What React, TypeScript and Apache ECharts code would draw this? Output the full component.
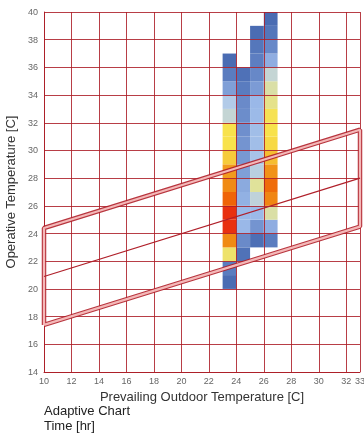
import React, { useEffect, useRef } from "react";
import * as echarts from "echarts";

// Heat-map columns (prevailing outdoor temperature bins, 1 °C wide)
const colX = [23, 24, 25, 26];
// lowest operative temperature bin of each column
const colStart = [20, 22, 23, 23];
// colour-scale values per 1 °C bin, from the lowest bin upwards
const col23 = [0, 1, 6.6, 9, 11, 11, 10, 9, 8.6, 7.5, 7, 7, 5, 4, 2.3, 1, 0];
const col24 = [0.4, 1.6, 3, 3, 2.8, 2.6, 2.3, 2.1, 2, 1.8, 1.7, 1.6, 1.0, 0.3];
const col25 = [0.2, 2, 3.1, 4.7, 6, 4.4, 3.6, 3.3, 3.3, 3.1, 3, 2.2, 1.5, 1.1, 0.7, 0];
const col26 = [1, 2.7, 5.8, 9.1, 9.8, 8.8, 7.8, 7.2, 7, 6.9, 6.2, 5.8, 5, 2.7, 1.5, 0.6, 0];
const columns = [col23, col24, col25, col26];

// Comfort zone (80 % acceptability) polygon and neutral line
const zoneX = [10, 33, 33, 10, 10];
const zoneY = [17.4, 24.5, 31.5, 24.4, 17.4];
const neutralX = [10, 33];
const neutralY = [20.9, 28.0];

const xTitle = "Prevailing Outdoor Temperature [C]";
const yTitle = "Operative Temperature [C]";
const footer1 = "Adaptive Chart";
const footer2 = "Time [hr]";

const scaleColors = [
  "#4a6cb3", "#5a7cbf", "#7494d0", "#9ab8e8", "#b2cbe8", "#c4d5d4",
  "#e0e29a", "#f8e24c", "#f4b42a", "#f08a14", "#ef6408", "#e83010",
];

const FONT = "Liberation Sans, Arial, sans-serif";
const GRID_RED = "rgba(172,28,38,0.85)";

export default function App() {
  const ref = useRef<HTMLDivElement>(null);
  useEffect(() => {
    if (!ref.current) return;
    const chart = echarts.init(ref.current, undefined, { renderer: "svg" });
    const cells: number[][] = [];
    columns.forEach((vals, ci) => {
      vals.forEach((v, i) => cells.push([colX[ci], colStart[ci] + i, v]));
    });
    chart.setOption({
      animation: false,
      textStyle: { fontFamily: FONT },
      grid: {
        left: 44,
        right: 4,
        top: 12,
        bottom: 63,
        containLabel: false,
        outerBoundsMode: "none",
      },
      visualMap: {
        show: false,
        type: "continuous",
        min: 0,
        max: 11,
        dimension: 2,
        seriesIndex: 0,
        inRange: { color: scaleColors },
      },
      xAxis: {
        type: "value",
        min: 10,
        max: 33,
        interval: 2,
        z: 5,
        name: xTitle,
        nameLocation: "middle",
        nameGap: 11,
        nameTextStyle: { fontSize: 13, color: "#333", fontFamily: FONT },
        axisLine: { lineStyle: { color: GRID_RED, width: 1 } },
        axisTick: { show: false },
        axisLabel: { fontSize: 9, color: "#666", margin: 4, fontFamily: FONT },
        splitLine: { show: true, lineStyle: { color: GRID_RED, width: 1 } },
      },
      yAxis: {
        type: "value",
        min: 14,
        max: 40,
        interval: 2,
        z: 5,
        name: yTitle,
        nameLocation: "middle",
        nameGap: 19,
        nameTextStyle: { fontSize: 13, color: "#333", fontFamily: FONT },
        axisLine: { show: true, lineStyle: { color: GRID_RED, width: 1 } },
        axisTick: { show: false },
        axisLabel: { fontSize: 9, color: "#666", margin: 6, fontFamily: FONT },
        splitLine: { show: true, lineStyle: { color: GRID_RED, width: 1 } },
      },
      series: [
        {
          type: "custom",
          z: 1,
          encode: { x: 0, y: 1 },
          data: cells,
          renderItem: (params: any, api: any) => {
            const x = api.value(0);
            const y = api.value(1);
            const p0 = api.coord([x, y + 1]);
            const p1 = api.coord([x + 1, y]);
            return {
              type: "rect",
              shape: { x: p0[0], y: p0[1], width: p1[0] - p0[0], height: p1[1] - p0[1] },
              style: { fill: api.visual("color") },
            };
          },
        },
        {
          type: "line",
          z: 10,
          data: zoneX.map((x, i) => [x, zoneY[i]]),
          symbol: "none",
          clip: true,
          lineStyle: { color: "#b0202a", width: 4.5, opacity: 0.9 },
        },
        {
          type: "line",
          z: 11,
          data: zoneX.map((x, i) => [x, zoneY[i]]),
          symbol: "none",
          clip: true,
          lineStyle: { color: "#f4b8b8", width: 2.2 },
        },
        {
          type: "line",
          z: 11,
          data: neutralX.map((x, i) => [x, neutralY[i]]),
          symbol: "none",
          clip: true,
          lineStyle: { color: "#b0202a", width: 1.2 },
        },
      ],
      graphic: [
        {
          type: "text",
          left: 44,
          top: 404,
          style: { text: footer1, fontSize: 13, fill: "#222", font: `13px ${FONT}` },
        },
        {
          type: "text",
          left: 44,
          top: 419,
          style: { text: footer2, fontSize: 13, fill: "#222", font: `13px ${FONT}` },
        },
      ],
    });
    return () => chart.dispose();
  }, []);
  return (
    <div
      ref={ref}
      style={{ position: "fixed", left: 0, top: 0, width: 364, height: 435 }}
    />
  );
}
